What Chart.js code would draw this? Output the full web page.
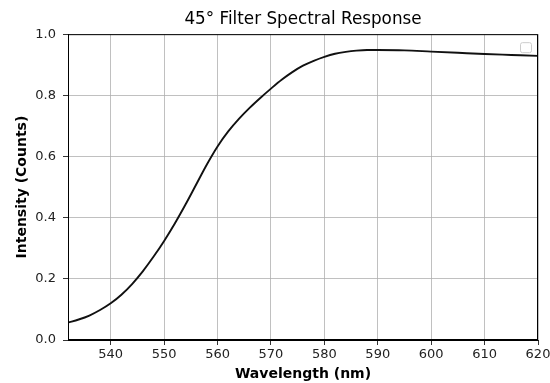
<!DOCTYPE html>
<html>
<head>
<meta charset="utf-8">
<script src="https://cdn.jsdelivr.net/npm/chart.js@4/dist/chart.umd.min.js"></script>
<style>
html,body{margin:0;padding:0;background:#fff;}
#wrap{width:550px;height:383px;}
</style>
</head>
<body>
<div id="wrap"><canvas id="c" width="550" height="383"></canvas></div>
<script>
const wavelengths = [532,534,536,538,540,542,544,546,548,550,552,554,556,558,560,562,564,566,568,570,572,574,576,578,580,582,584,586,588,590,595,600,605,610,615,620];
const intensity   = [0.057,0.067,0.080,0.098,0.120,0.148,0.183,0.2245,0.272,0.324,0.381,0.443,0.5085,0.574,0.633,0.682,0.723,0.759,0.7915,0.822,0.851,0.876,0.897,0.913,0.926,0.936,0.942,0.946,0.948,0.948,0.947,0.943,0.939,0.935,0.932,0.929];
const xTicks = [540,550,560,570,580,590,600,610,620];
const yTicks = [0.0,0.2,0.4,0.6,0.8,1.0];

const FONT = "'DejaVu Sans', sans-serif";

const framePlugin = {
  id: 'frame',
  afterDraw(chart) {
    const {ctx, chartArea: a} = chart;
    ctx.save();
    ctx.strokeStyle = '#000';
    ctx.lineWidth = 1;
    ctx.strokeRect(a.left + 0.5, a.top + 0.5, a.right - a.left - 1, a.bottom - a.top - 1);
    // empty legend frame (as in the reference)
    ctx.fillStyle = 'rgba(255,255,255,0.8)';
    ctx.strokeStyle = '#cccccc';
    ctx.beginPath();
    ctx.roundRect(a.right - 17.5, a.top + 8.5, 11, 10, 2);
    ctx.fill();
    ctx.stroke();
    ctx.restore();
  }
};

new Chart(document.getElementById('c'), {
  type: 'line',
  data: {
    datasets: [{
      data: wavelengths.map((w, i) => ({x: w, y: intensity[i]})),
      borderColor: '#111',
      borderWidth: 1.9,
      pointRadius: 0,
      cubicInterpolationMode: 'monotone',
      fill: false
    }]
  },
  options: {
    responsive: false,
    animation: false,
    devicePixelRatio: 1,
    layout: {padding: {left: 0, right: 0, top: 0, bottom: 0}},
    plugins: {
      legend: {display: false},
      tooltip: {enabled: false},
      title: {
        display: true,
        text: '45° Filter Spectral Response',
        fullSize: false,
        color: '#000',
        font: {family: FONT, size: 16.8, weight: 'normal', lineHeight: 1.2},
        padding: {top: 10, bottom: 4}
      }
    },
    scales: {
      x: {
        type: 'linear',
        min: 532,
        max: 620,
        afterBuildTicks(s) { s.ticks = xTicks.map(v => ({value: v})); },
        afterFit(s) { s.height = 43; s.paddingLeft = 0; s.paddingRight = 12; },
        ticks: {color: '#222', font: {family: FONT, size: 13}, padding: 2, maxRotation: 0},
        grid: {color: '#b0b0b0', lineWidth: 0.8, tickColor: '#000', tickLength: 5, drawTicks: true},
        border: {color: '#000', width: 1},
        title: {
          display: true,
          text: 'Wavelength (nm)',
          color: '#000',
          font: {family: FONT, size: 14, weight: 'bold', lineHeight: 1.2},
          padding: {top: 0, bottom: 0}
        }
      },
      y: {
        type: 'linear',
        min: 0,
        max: 1,
        afterBuildTicks(s) { s.ticks = yTicks.map(v => ({value: v})); },
        afterFit(s) { s.width = 68; },
        ticks: {color: '#222', font: {family: FONT, size: 13}, padding: 7,
          callback: v => Number(v).toFixed(1)},
        grid: {color: '#b0b0b0', lineWidth: 0.8, tickColor: '#000', tickLength: 5, drawTicks: true},
        border: {color: '#000', width: 1},
        title: {
          display: true,
          text: 'Intensity (Counts)',
          color: '#000',
          font: {family: FONT, size: 14, weight: 'bold', lineHeight: 1.2},
          padding: {top: 13.5, bottom: 0}
        }
      }
    }
  },
  plugins: [framePlugin]
});
</script>
</body>
</html>
